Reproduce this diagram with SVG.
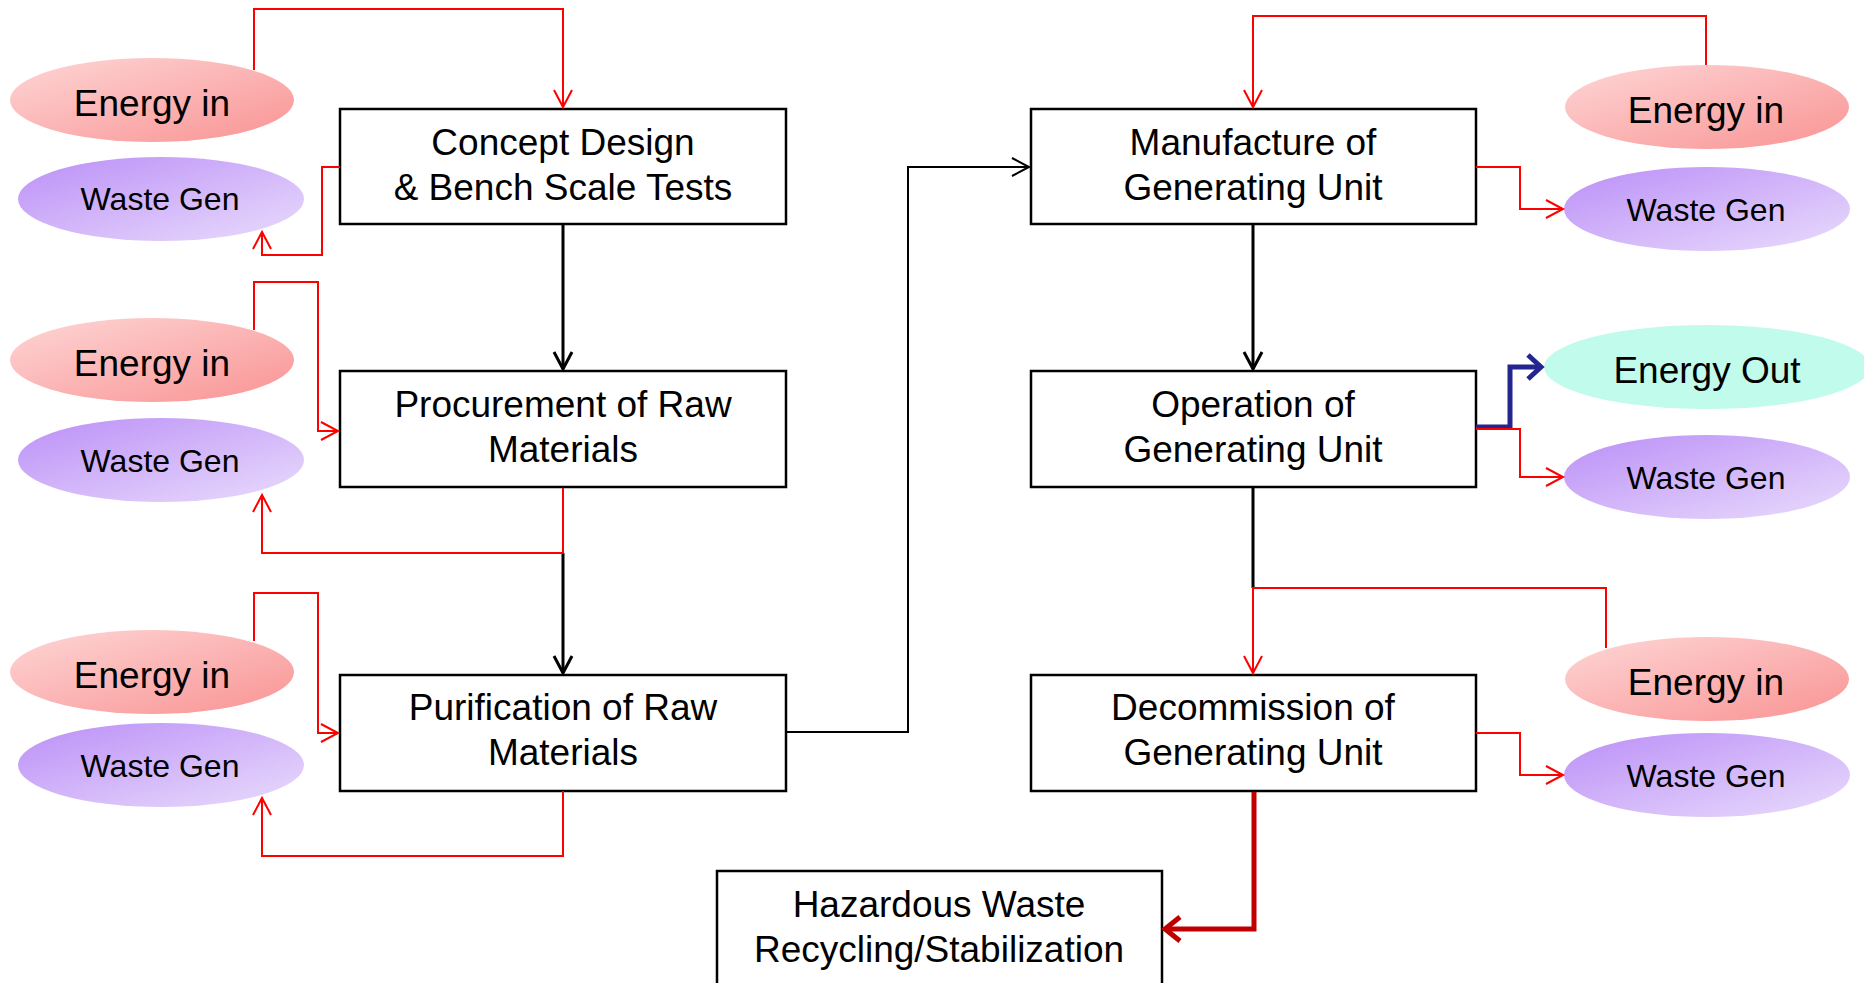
<svg xmlns="http://www.w3.org/2000/svg" width="1864" height="983" viewBox="0 0 1864 983">
  <style>
    .box { fill: #ffffff; stroke: #000000; stroke-width: 2.5; }
    .lbl { font-family: "Liberation Sans", Arial, sans-serif; font-size: 37px; fill: #000000; text-anchor: middle; }
    .wlbl { font-family: "Liberation Sans", Arial, sans-serif; font-size: 32px; fill: #000000; text-anchor: middle; }
    .red { fill: none; stroke: #ff0000; stroke-width: 2; }
    .blk { fill: none; stroke: #000000; stroke-width: 3; }
    .blk2 { fill: none; stroke: #000000; stroke-width: 2; }
    .navy { fill: none; stroke: #25258f; stroke-width: 5; }
    .dred { fill: none; stroke: #c00000; stroke-width: 5; }
    .ein { fill: url(#gEnergyIn); }
    .wg { fill: url(#gWaste); }
    .eout { fill: #c1fbeb; }
  </style>
  <defs>
    <linearGradient id="gEnergyIn" x1="0" y1="0" x2="1" y2="1">
      <stop offset="0" stop-color="#fed6d6"/>
      <stop offset="1" stop-color="#f99393"/>
    </linearGradient>
    <linearGradient id="gWaste" x1="0" y1="0" x2="1" y2="1">
      <stop offset="0" stop-color="#bb8ff7"/>
      <stop offset="1" stop-color="#e9dcfc"/>
    </linearGradient>
    <marker id="aRed" viewBox="-20 -12 24 24" markerWidth="24" markerHeight="24" refX="0" refY="0" orient="auto" markerUnits="userSpaceOnUse">
      <path d="M-17,-9 L0,0 L-17,9" fill="none" stroke="#ff0000" stroke-width="2"/>
    </marker>
    <marker id="aBlk" viewBox="-20 -12 24 24" markerWidth="24" markerHeight="24" refX="0" refY="0" orient="auto" markerUnits="userSpaceOnUse">
      <path d="M-17,-9 L0,0 L-17,9" fill="none" stroke="#000000" stroke-width="3"/>
    </marker>
    <marker id="aBlk2" viewBox="-20 -12 24 24" markerWidth="24" markerHeight="24" refX="0" refY="0" orient="auto" markerUnits="userSpaceOnUse">
      <path d="M-17,-9 L0,0 L-17,9" fill="none" stroke="#000000" stroke-width="2"/>
    </marker>
    <marker id="aNavy" viewBox="-20 -16 26 32" markerWidth="26" markerHeight="32" refX="0" refY="0" orient="auto" markerUnits="userSpaceOnUse">
      <path d="M-13,-12 L0,0 L-13,12" fill="none" stroke="#25258f" stroke-width="5"/>
    </marker>
    <marker id="aDred" viewBox="-20 -16 26 32" markerWidth="26" markerHeight="32" refX="0" refY="0" orient="auto" markerUnits="userSpaceOnUse">
      <path d="M-15,-12 L0,0 L-15,12" fill="none" stroke="#c00000" stroke-width="5"/>
    </marker>
  </defs>

  <!-- process boxes -->
  <g id="concept">
    <rect class="box" x="340" y="109" width="446" height="115"/>
    <text class="lbl" x="563" y="155">Concept Design</text>
    <text class="lbl" x="563" y="200">&amp; Bench Scale Tests</text>
  </g>
  <g id="procurement">
    <rect class="box" x="340" y="371" width="446" height="116"/>
    <text class="lbl" x="563" y="417">Procurement of Raw</text>
    <text class="lbl" x="563" y="462">Materials</text>
  </g>
  <g id="purification">
    <rect class="box" x="340" y="675" width="446" height="116"/>
    <text class="lbl" x="563" y="720">Purification of Raw</text>
    <text class="lbl" x="563" y="765">Materials</text>
  </g>
  <g id="manufacture">
    <rect class="box" x="1031" y="109" width="445" height="115"/>
    <text class="lbl" x="1253" y="155">Manufacture of</text>
    <text class="lbl" x="1253" y="200">Generating Unit</text>
  </g>
  <g id="operation">
    <rect class="box" x="1031" y="371" width="445" height="116"/>
    <text class="lbl" x="1253" y="417">Operation of</text>
    <text class="lbl" x="1253" y="462">Generating Unit</text>
  </g>
  <g id="decommission">
    <rect class="box" x="1031" y="675" width="445" height="116"/>
    <text class="lbl" x="1253" y="720">Decommission of</text>
    <text class="lbl" x="1253" y="765">Generating Unit</text>
  </g>
  <g id="hazardous">
    <rect class="box" x="717" y="871" width="445" height="130"/>
    <text class="lbl" x="939" y="917">Hazardous Waste</text>
    <text class="lbl" x="939" y="962">Recycling/Stabilization</text>
  </g>

  <!-- energy and waste ellipses, left column -->
  <g id="energy-in-1">
    <ellipse class="ein" cx="152" cy="100" rx="142" ry="42"/>
    <text class="lbl" x="152" y="116">Energy in</text>
  </g>
  <g id="waste-gen-1">
    <ellipse class="wg" cx="161" cy="199" rx="143" ry="42"/>
    <text class="wlbl" x="160" y="210">Waste Gen</text>
  </g>
  <g id="energy-in-2">
    <ellipse class="ein" cx="152" cy="360" rx="142" ry="42"/>
    <text class="lbl" x="152" y="376">Energy in</text>
  </g>
  <g id="waste-gen-2">
    <ellipse class="wg" cx="161" cy="460" rx="143" ry="42"/>
    <text class="wlbl" x="160" y="472">Waste Gen</text>
  </g>
  <g id="energy-in-3">
    <ellipse class="ein" cx="152" cy="672" rx="142" ry="42"/>
    <text class="lbl" x="152" y="688">Energy in</text>
  </g>
  <g id="waste-gen-3">
    <ellipse class="wg" cx="161" cy="765" rx="143" ry="42"/>
    <text class="wlbl" x="160" y="777">Waste Gen</text>
  </g>

  <!-- energy and waste ellipses, right column -->
  <g id="energy-in-4">
    <ellipse class="ein" cx="1707" cy="107" rx="142" ry="42"/>
    <text class="lbl" x="1706" y="123">Energy in</text>
  </g>
  <g id="waste-gen-4">
    <ellipse class="wg" cx="1707" cy="209" rx="143" ry="42"/>
    <text class="wlbl" x="1706" y="221">Waste Gen</text>
  </g>
  <g id="energy-out">
    <ellipse class="eout" cx="1707" cy="367" rx="163" ry="42"/>
    <text class="lbl" x="1707" y="383">Energy Out</text>
  </g>
  <g id="waste-gen-5">
    <ellipse class="wg" cx="1707" cy="477" rx="143" ry="42"/>
    <text class="wlbl" x="1706" y="489">Waste Gen</text>
  </g>
  <g id="energy-in-6">
    <ellipse class="ein" cx="1707" cy="679" rx="142" ry="42"/>
    <text class="lbl" x="1706" y="695">Energy in</text>
  </g>
  <g id="waste-gen-6">
    <ellipse class="wg" cx="1707" cy="775" rx="143" ry="42"/>
    <text class="wlbl" x="1706" y="787">Waste Gen</text>
  </g>

  <!-- connectors -->
  <g id="connectors">
    <!-- main process flow -->
    <path class="blk" d="M563,224 V369" marker-end="url(#aBlk)"/>
    <path class="blk" d="M563,553 V673" marker-end="url(#aBlk)"/>
    <path class="blk2" d="M786,732 H908 V167 H1029" marker-end="url(#aBlk2)"/>
    <path class="blk" d="M1253,224 V369" marker-end="url(#aBlk)"/>
    <path class="blk" d="M1253,487 V588"/>

    <!-- energy inputs -->
    <path class="red" d="M254,70 V9 H563 V107" marker-end="url(#aRed)"/>
    <path class="red" d="M254,330 V282 H318 V431 H338" marker-end="url(#aRed)"/>
    <path class="red" d="M254,641 V593 H318 V733 H338" marker-end="url(#aRed)"/>
    <path class="red" d="M1706,65 V16 H1253 V107" marker-end="url(#aRed)"/>
    <path class="red" d="M1606,648 V588 H1253 V673" marker-end="url(#aRed)"/>

    <!-- energy output -->
    <path class="navy" d="M1476,427 H1510 V367 H1541" marker-end="url(#aNavy)"/>

    <!-- waste outputs -->
    <path class="red" d="M340,167 H322 V255 H262 V232" marker-end="url(#aRed)"/>
    <path class="red" d="M563,488 V553 H262 V495" marker-end="url(#aRed)"/>
    <path class="red" d="M563,791 V856 H262 V798" marker-end="url(#aRed)"/>
    <path class="red" d="M1476,167 H1520 V209 H1563" marker-end="url(#aRed)"/>
    <path class="red" d="M1476,429 H1520 V477 H1563" marker-end="url(#aRed)"/>
    <path class="red" d="M1476,733 H1520 V775 H1563" marker-end="url(#aRed)"/>

    <!-- hazardous waste route -->
    <path class="dred" d="M1254,792 V929 H1165" marker-end="url(#aDred)"/>
  </g>
</svg>
